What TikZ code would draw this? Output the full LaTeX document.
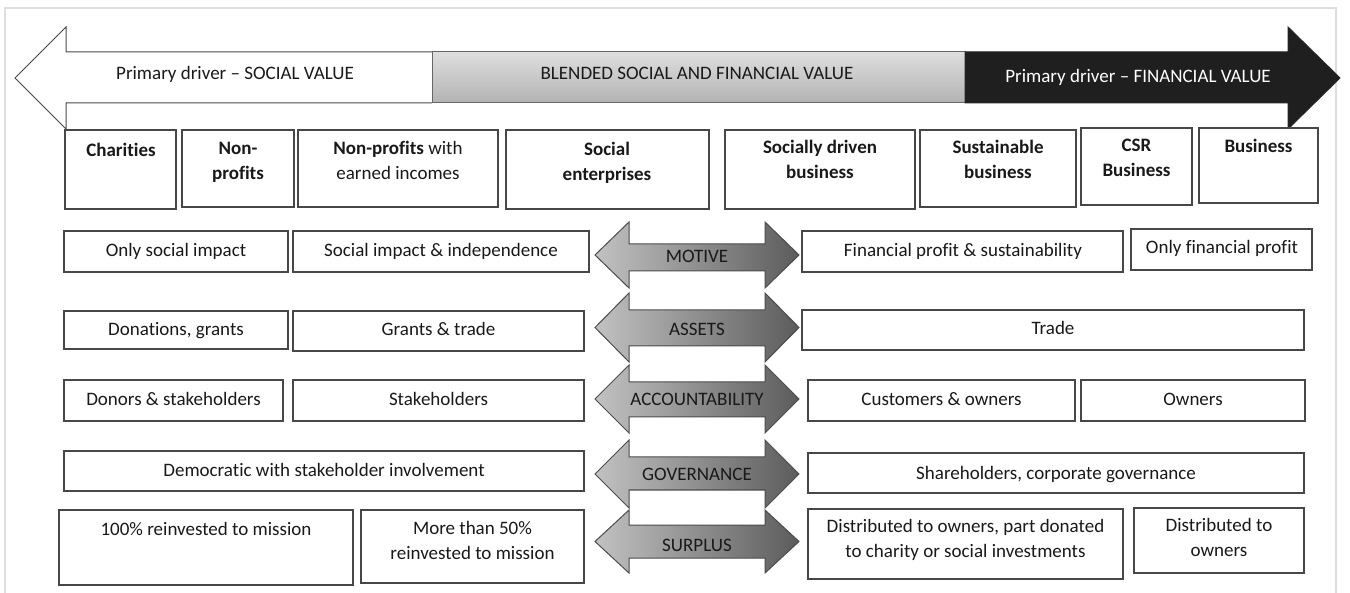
\documentclass[tikz,border=0pt]{standalone}
\usepackage{fontspec}
\setmainfont{Carlito}[Ligatures={NoCommon}]
\begin{document}
\begin{tikzpicture}[x=1pt,y=-1pt,
  boxst/.style={draw=black!72, line width=1.1pt, fill=white},
  txt/.style={font=\fontsize{19}{25}\selectfont, inner sep=0pt, align=center, text=black!90,
    execute at begin node=\strut, execute at end node=\strut},
  btxt/.style={txt, font=\fontsize{19}{25}\selectfont\bfseries},
  darr/.style={draw=black!70, line width=1pt, left color=black!24, right color=black!64},
  framest/.style={draw=black!13, line width=2.5pt}
]
\useasboundingbox[fill=white] (0,0) rectangle (1350,593);
\draw[framest] (5,593) -- (5,8) -- (1336,8) -- (1336,593);

% top arrow
\draw[draw=black!72, line width=1pt, fill=white]
  (432,52) -- (66,52) -- (66,27) -- (15,78) -- (66,129) -- (66,103) -- (432,103);
\draw[draw=black!60, line width=1pt, top color=black!13, bottom color=black!30]
  (432,52) rectangle (965,103);
\draw[draw=black!85, line width=1pt, fill=black!88]
  (965,52) -- (1288,52) -- (1288,27) -- (1340,78) -- (1288,129) -- (1288,103) -- (965,103) -- cycle;
\node[txt] (social) at (235,75) {Primary driver -- SOCIAL VALUE};
\node[txt] (blended) at (697,75) {BLENDED SOCIAL AND FINANCIAL VALUE};
\node[txt, text=white] (financial) at (1138,78) {Primary driver -- FINANCIAL VALUE};

% row 1
\draw[boxst] (65,130) rectangle (176,209);
\draw[boxst] (182,130) rectangle (294,207);
\draw[boxst] (298,130) rectangle (498,207);
\draw[boxst] (506,130) rectangle (709,209);
\draw[boxst] (725,130) rectangle (915,209);
\draw[boxst] (920,130) rectangle (1076,207);
\draw[boxst] (1081,128) rectangle (1192,205);
\draw[boxst] (1199,128) rectangle (1318,203);
\node[btxt] (charities) at (121,152) {Charities};
\node[btxt] (nonprofits) at (238,164.5) {Non-\\profits};
\node[txt] (npearned) at (398,164) {\textbf{Non-profits} with\\earned incomes};
\node[btxt] (socent) at (607,165) {Social\\enterprises};
\node[btxt] (socdriven) at (820,163) {Socially driven\\business};
\node[btxt] (sustain) at (998,163.5) {Sustainable\\business};
\node[btxt] (csr) at (1136.5,161.5) {CSR\\Business};
\node[btxt] (business) at (1258.5,148) {Business};

% double arrows
\newcommand\dblarrow[5]{%
  \draw[darr] (595,{(#1+#4)/2}) -- (629,#1) -- (629,#2) -- (765,#2) -- (765,#1)
    -- (799,{(#1+#4)/2}) -- (765,#4) -- (765,#3) -- (629,#3) -- (629,#4) -- cycle;}
\dblarrow{222}{244}{271}{288}{}
\dblarrow{293}{310}{346}{362}{}
\dblarrow{365}{382}{417}{433}{}
\dblarrow{440}{457}{490}{508}{}
\dblarrow{510}{525}{558}{573}{}
\node[txt] (motive) at (697,258) {MOTIVE};
\node[txt] (assets) at (697,331) {ASSETS};
\node[txt] (account) at (697,401) {ACCOUNTABILITY};
\node[txt] (govern) at (697,476) {GOVERNANCE};
\node[txt] (surplus) at (697,546) {SURPLUS};

% row 2
\draw[boxst] (64,231) rectangle (288,272);
\draw[boxst] (293,231) rectangle (589,272);
\draw[boxst] (802,231) rectangle (1123,272);
\draw[boxst] (1131,229) rectangle (1312,270);
\node[txt] (m1) at (176,252) {Only social impact};
\node[txt] (m2) at (441,252) {Social impact \& independence};
\node[txt] (m3) at (963,252) {Financial profit \& sustainability};
\node[txt] (m4) at (1222,249) {Only financial profit};

% row 3
\draw[boxst] (64,311) rectangle (288,349);
\draw[boxst] (293,311) rectangle (584,351);
\draw[boxst] (802,310) rectangle (1304,350);
\node[txt] (a1) at (176,331) {Donations, grants};
\node[txt] (a2) at (438.5,331) {Grants \& trade};
\node[txt] (a3) at (1053,330) {Trade};

% row 4
\draw[boxst] (64,380) rectangle (283,421);
\draw[boxst] (293,380) rectangle (584,421);
\draw[boxst] (808,380) rectangle (1075,421);
\draw[boxst] (1081,380) rectangle (1305,421);
\node[txt] (c1) at (173.5,401) {Donors \& stakeholders};
\node[txt] (c2) at (438.5,401) {Stakeholders};
\node[txt] (c3) at (941.5,401) {Customers \& owners};
\node[txt] (c4) at (1193,401) {Owners};

% row 5
\draw[boxst] (64,451) rectangle (584,491);
\draw[boxst] (808,453) rectangle (1304,493);
\node[txt] (g1) at (324,472) {Democratic with stakeholder involvement};
\node[txt] (g2) at (1056,474) {Shareholders, corporate governance};

% row 6
\draw[boxst] (59,510) rectangle (353,585);
\draw[boxst] (361,510) rectangle (584,583);
\draw[boxst] (808,509) rectangle (1123,579);
\draw[boxst] (1134,508) rectangle (1304,573);
\node[txt] (s1) at (206,530) {100\% reinvested to mission};
\node[txt] (s2) at (472.5,544) {More than 50\%\\reinvested to mission};
\node[txt] (s3) at (965.5,542) {Distributed to owners, part donated\\to charity or social investments};
\node[txt] (s4) at (1219,541.5) {Distributed to\\owners};
\end{tikzpicture}
\end{document}
